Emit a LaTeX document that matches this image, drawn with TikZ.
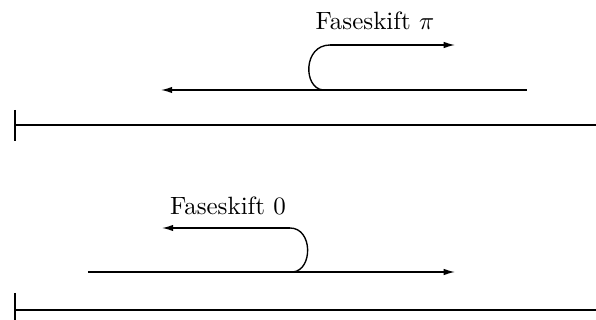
\documentclass[tikz,border=0pt]{standalone}
\usetikzlibrary{arrows.meta}
\begin{document}
\begin{tikzpicture}[x=0.4pt,y=-0.4pt,
  wave/.style={line width=0.55pt,-{Latex[length=4.5pt,width=2.6pt]}},
  curl/.style={line width=0.55pt},
  wall/.style={line width=0.9pt},
  lbl/.style={inner sep=0pt,anchor=base,font=\fontsize{10}{12}\selectfont}]
\useasboundingbox (0,0) rectangle (596,320);
% top
\coordinate (t1s) at (527,90);
\coordinate (t1e) at (161,90);
\coordinate (t2s) at (323,90);
\coordinate (t2m) at (330,45);
\coordinate (t2e) at (455,45);
\coordinate (w1a) at (15,125);
\coordinate (w1b) at (596,125);
\coordinate (w1t) at (15,110);
\coordinate (w1u) at (15,141);
\draw[wave] (t1s) -- (t1e);
\draw[curl] (t2s) .. controls (303,88) and (303,45) .. (t2m);
\draw[wave] (t2m) -- (t2e);
\draw[wall] (w1a) -- (w1b);
\draw[wall] (w1t) -- (w1u);
\node[lbl] (l1) at (375,30) {Faseskift $\pi$};
% bottom
\coordinate (b1s) at (88,272);
\coordinate (b1e) at (455,272);
\coordinate (b2s) at (293,272);
\coordinate (b2m) at (290,228);
\coordinate (b2e) at (162,228);
\coordinate (w2a) at (15,310);
\coordinate (w2b) at (596,310);
\coordinate (w2t) at (15,293);
\coordinate (w2u) at (15,320);
\draw[wave] (b1s) -- (b1e);
\draw[curl] (b2s) .. controls (313,270) and (313,228) .. (b2m);
\draw[wave] (b2m) -- (b2e);
\draw[wall] (w2a) -- (w2b);
\draw[wall] (w2t) -- (w2u);
\node[lbl] (l2) at (228,215) {Faseskift 0};
\end{tikzpicture}
\end{document}
